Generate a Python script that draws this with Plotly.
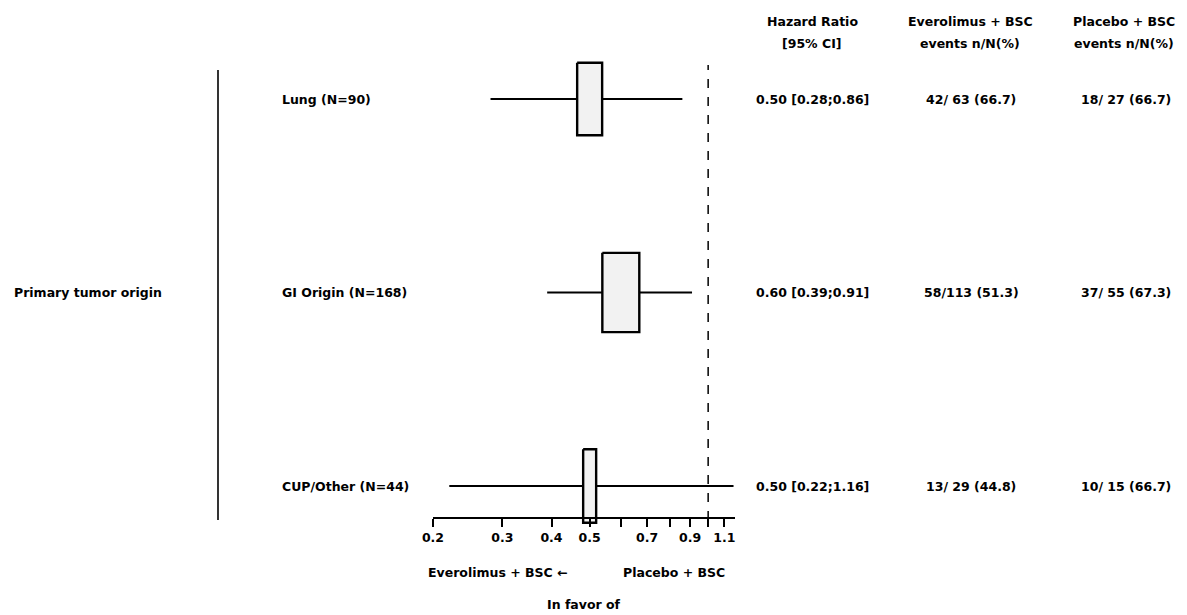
import plotly.graph_objects as go

# ---------------- data ----------------
group_label = "Primary tumor origin"
subgroups = ["Lung (N=90)", "GI Origin (N=168)", "CUP/Other (N=44)"]
hr = [0.50, 0.60, 0.50]
ci_low = [0.28, 0.39, 0.22]
ci_high = [0.86, 0.91, 1.16]
hr_text = ["0.50 [0.28;0.86]", "0.60 [0.39;0.91]", "0.50 [0.22;1.16]"]
evero_text = ["42/ 63 (66.7)", "58/113 (51.3)", "13/ 29 (44.8)"]
placebo_text = ["18/ 27 (66.7)", "37/ 55 (67.3)", "10/ 15 (66.7)"]
tick_vals = [0.2, 0.3, 0.4, 0.5, 0.6, 0.7, 0.8, 0.9, 1.0, 1.1]
tick_text = ["0.2", "0.3", "0.4", "0.5", "", "0.7", "", "0.9", "", "1.1"]
headers = [("Hazard Ratio", "[95% CI]"),
           ("Everolimus + BSC", "events n/N(%)"),
           ("Placebo + BSC", "events n/N(%)")]

# ---------------- style ----------------
W, H = 1187, 615
FONT = dict(family="DejaVu Sans", size=12.5, color="#000000", weight="bold")
PX_PER_DECADE = 394.0
box_half_px = [12.5, 18.5, 6.5]          # half width of the HR boxes (px)
box_half_rows = [0.187, 0.205, 0.19]     # half height of the HR boxes (rows)
row_top_px, row_step_px = 99.0, 193.5
col_centers_px = [812, 971, 1126]
axis_y_px = 518

y_range = [(H - row_top_px) / row_step_px, -row_top_px / row_step_px]

fig = go.Figure()

# CI lines
for i in range(len(subgroups)):
    fig.add_trace(go.Scatter(x=[ci_low[i], ci_high[i]], y=[i, i], mode="lines",
                             line=dict(color="black", width=2.2),
                             hoverinfo="skip", showlegend=False))
# HR boxes
for i in range(len(subgroups)):
    hw = box_half_px[i] / PX_PER_DECADE
    lo, hi = hr[i] * 10 ** (-hw), hr[i] * 10 ** hw
    hh = box_half_rows[i]
    fig.add_trace(go.Scatter(x=[lo, hi, hi, lo, lo],
                             y=[i - hh, i - hh, i + hh, i + hh, i - hh],
                             mode="lines", fill="toself", fillcolor="#f2f2f2",
                             line=dict(color="black", width=2.4),
                             hoverinfo="skip", showlegend=False))

# reference lines
fig.add_shape(type="line", xref="x", yref="paper", x0=1, x1=1,
              y0=1 - 520 / H, y1=1 - 65 / H,
              line=dict(color="black", width=1.5, dash="dash"))
fig.add_shape(type="line", xref="paper", yref="paper", x0=218 / W, x1=218 / W,
              y0=1 - 520 / H, y1=1 - 70 / H,
              line=dict(color="black", width=1.6))

ann = []
def txt(text, x, y, xref="paper", yref="paper", xanchor="center"):
    ann.append(dict(text=text, x=x, y=y, xref=xref, yref=yref, xanchor=xanchor,
                    yanchor="middle", showarrow=False, font=FONT))

# group label
txt(group_label, 12 / W, 1, yref="y", xanchor="left")
for i in range(len(subgroups)):
    txt(subgroups[i], 280 / W, i, yref="y", xanchor="left")
    txt(hr_text[i], col_centers_px[0] / W, i, yref="y")
    txt(evero_text[i], col_centers_px[1] / W, i, yref="y")
    txt(placebo_text[i], col_centers_px[2] / W, i, yref="y")
for (l1, l2), cx in zip(headers, [812, 970, 1124]):
    txt(l1, cx / W, 1 - 22 / H)
    txt(l2, cx / W, 1 - 44 / H)

txt("Everolimus + BSC \u2190", 498 / W, 1 - 572 / H)
txt("Placebo + BSC", 674 / W, 1 - 572 / H)
txt("In favor of", 584 / W, 1 - 604 / H)

fig.update_layout(
    width=W, height=H, margin=dict(l=0, r=0, t=0, b=0, pad=0, autoexpand=False),
    plot_bgcolor="white", paper_bgcolor="white",
    annotations=ann, showlegend=False,
    xaxis=dict(type="log", domain=[433 / W, 735 / W],
               range=[-0.69897, 0.0682], anchor="free",
               position=1 - axis_y_px / H, automargin=False,
               showline=True, linecolor="black", linewidth=2.2,
               ticks="outside", ticklen=8, tickwidth=1.6, tickcolor="black",
               tickvals=tick_vals, ticktext=tick_text,
               tickfont=FONT, showgrid=False, zeroline=False),
    yaxis=dict(range=y_range, domain=[0, 1], visible=False, automargin=False,
               showgrid=False, zeroline=False),
)

fig.write_html("out.html")
